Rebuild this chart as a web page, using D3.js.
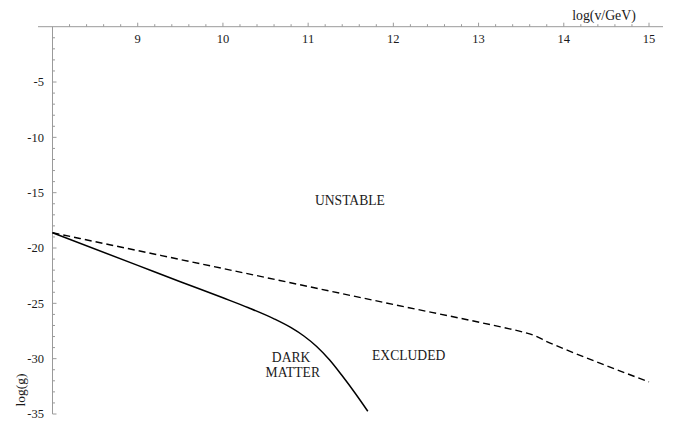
<!DOCTYPE html>
<html>
<head>
<meta charset="utf-8">
<script src="https://cdn.jsdelivr.net/npm/d3@7"></script>
<style>
  html, body { margin: 0; padding: 0; background: #fff; }
  svg { display: block; }
</style>
</head>
<body>
<svg id="chart" width="675" height="422"></svg>
<script>
// Dark matter boundary: log(g) versus log(v/GeV)
const darkMatterX = [8, 9, 9.5, 10, 10.3, 10.6, 10.8, 10.95, 11.1, 11.25, 11.4, 11.55, 11.7];
const darkMatterY = [-18.62, -21.57, -23.05, -24.5, -25.4, -26.4, -27.2, -27.95, -28.9, -30.1, -31.55, -33.1, -34.75];

// Stability / exclusion boundary
const excludedX = [8, 10, 12, 13.3, 13.5, 13.65, 13.8, 14, 15];
const excludedY = [-18.62, -21.85, -25.1, -27.2, -27.55, -27.9, -28.45, -29.1, -32.1];

// Tick values
const xTickLabels = [9, 10, 11, 12, 13, 14, 15];
const yTickLabels = [-5, -10, -15, -20, -25, -30, -35];

// Region labels
const regionNames = ["UNSTABLE", "DARK", "MATTER", "EXCLUDED"];
const regionX = [11.49, 10.8, 10.82, 12.18];
const regionY = [-16.15, -30.3, -31.68, -30.15];

const serif = "'Liberation Serif', 'Times New Roman', Times, 'DejaVu Serif', serif";
const svg = d3.select("#chart").attr("font-family", serif);
const x = d3.scaleLinear().domain([8, 15]).range([52.5, 649]);
const y = d3.scaleLinear().domain([0, -35]).range([26.7, 414]);

const axisColor = "#9a9a9a";
const textColor = "#1a1a1a";

// Horizontal axis at log(g) = 0
svg.append("line")
  .attr("x1", 38).attr("x2", 663)
  .attr("y1", y(0)).attr("y2", y(0))
  .attr("stroke", axisColor).attr("stroke-width", 1);

const xMinor = d3.range(8.2, 15.2, 0.2).map(v => +v.toFixed(1));
svg.selectAll(".xminor").data(xMinor).enter().append("line")
  .attr("x1", d => x(d)).attr("x2", d => x(d))
  .attr("y1", y(0)).attr("y2", d => Number.isInteger(d) ? y(0) - 4 : y(0) - 2.5)
  .attr("stroke", axisColor).attr("stroke-width", 1);

svg.selectAll(".xlab").data(xTickLabels).enter().append("text")
  .attr("x", d => x(d)).attr("y", 43)
  .attr("text-anchor", "middle")
  .attr("font-family", serif)
  .attr("font-size", 12.5)
  .attr("fill", textColor)
  .text(d => d);

svg.append("text")
  .attr("x", 604).attr("y", 19.5)
  .attr("text-anchor", "middle")
  .attr("font-family", serif)
  .attr("font-size", 13.8)
  .attr("fill", textColor)
  .text("log(v/GeV)");

// Vertical axis at log(v/GeV) = 8
svg.append("line")
  .attr("x1", x(8)).attr("x2", x(8))
  .attr("y1", y(0)).attr("y2", y(-35))
  .attr("stroke", axisColor).attr("stroke-width", 1);

const yMinor = d3.range(-1, -36, -1);
svg.selectAll(".yminor").data(yMinor).enter().append("line")
  .attr("x1", x(8)).attr("x2", d => d % 5 === 0 ? x(8) + 4 : x(8) + 2.5)
  .attr("y1", d => y(d)).attr("y2", d => y(d))
  .attr("stroke", axisColor).attr("stroke-width", 1);

svg.selectAll(".ylab").data(yTickLabels).enter().append("text")
  .attr("x", 44).attr("y", d => y(d) + 4.3)
  .attr("text-anchor", "end")
  .attr("font-family", serif)
  .attr("font-size", 12.5)
  .attr("fill", textColor)
  .text(d => d);

svg.append("text")
  .attr("transform", "translate(25,390) rotate(-90)")
  .attr("text-anchor", "middle")
  .attr("font-family", serif)
  .attr("font-size", 13.5)
  .attr("fill", textColor)
  .text("log(g)");

// Curves
const line = d3.line().x(d => x(d[0])).y(d => y(d[1])).curve(d3.curveMonotoneX);

svg.append("path")
  .datum(excludedX.map((v, i) => [v, excludedY[i]]))
  .attr("d", line)
  .attr("fill", "none").attr("stroke", "#000")
  .attr("stroke-width", 1.4)
  .attr("stroke-dasharray", "7,4");

svg.append("path")
  .datum(darkMatterX.map((v, i) => [v, darkMatterY[i]]))
  .attr("d", line)
  .attr("fill", "none").attr("stroke", "#000")
  .attr("stroke-width", 1.5);

// Region labels
svg.selectAll(".region").data(regionNames).enter().append("text")
  .attr("x", (d, i) => x(regionX[i])).attr("y", (d, i) => y(regionY[i]))
  .attr("text-anchor", "middle")
  .attr("font-family", serif)
  .attr("font-size", 13.6)
  .attr("fill", textColor)
  .text(d => d);
</script>
</body>
</html>
